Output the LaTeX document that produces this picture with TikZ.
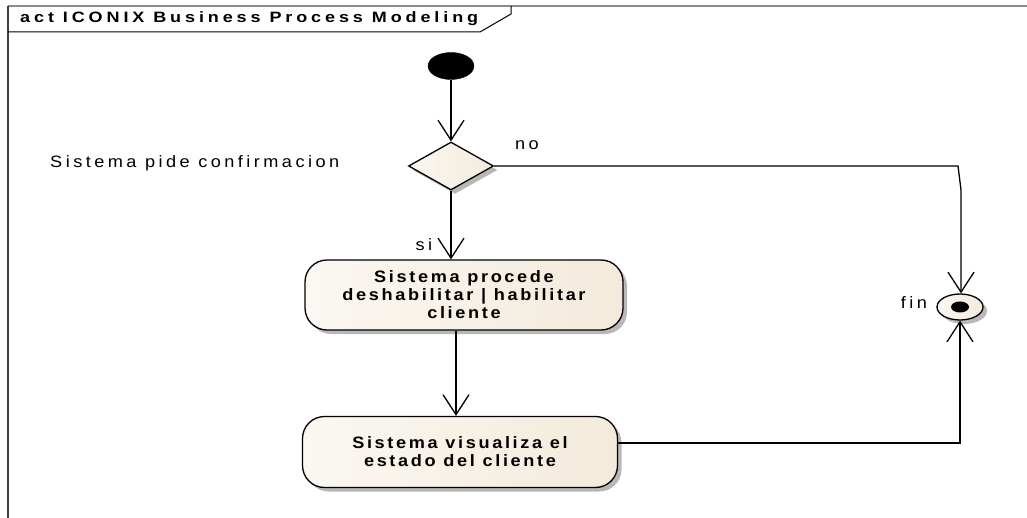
\documentclass[tikz,border=0pt]{standalone}
\usepackage{fontspec}
\usepackage{tikz}
\usetikzlibrary{arrows.meta,shapes.geometric,shadows}
\definecolor{actfill}{RGB}{243,234,219}
\definecolor{framegray}{RGB}{140,140,140}
\newfontfamily\lblfont[LetterSpace=21,FakeStretch=1.1]{Liberation Sans}
\newfontfamily\actfont[LetterSpace=16,FakeStretch=1.1]{Liberation Sans}
\newfontfamily\ttlfont[LetterSpace=26,FakeStretch=1.2]{Liberation Sans}
\tikzset{
  flowarr/.style   = {-{Straight Barb[length=20pt,width=26pt]},line width=1.3pt},
  umlshadow/.style = {drop shadow={shadow xshift=4pt,shadow yshift=-4pt,fill=black!28,opacity=1}},
  actbox/.style    = {draw,line width=1.3pt,rounded corners=22pt,left color=actfill!35,right color=actfill,
                      umlshadow,inner sep=0pt,align=center,font=\actfont\bfseries\fontsize{16.5}{18}\selectfont},
  decbox/.style    = {diamond,draw,line width=1.3pt,left color=actfill!35,right color=actfill,umlshadow,
                      minimum width=85pt,minimum height=48pt,inner sep=0pt},
  lbl/.style       = {font=\lblfont\fontsize{16.5}{18}\selectfont,inner sep=0pt}
}

\begin{document}
\begin{tikzpicture}[x=1pt,y=-1pt]
  \useasboundingbox (0,0) rectangle (1027,518);
  \draw[framegray,line width=1.5pt] (8,6) -- (1027,6);
  \draw[black!75,line width=1.5pt] (8,6) -- (8,518);
  \draw[line width=1pt] (8,32) -- (480,32) -- (511,14) -- (511,6);
  \node[anchor=west,inner sep=0pt,font=\ttlfont\bfseries\fontsize{15}{17}\selectfont] (title) at (20,19)
    {act ICONIX Business Process Modeling};

  \node[ellipse,draw,fill=black,minimum width=46pt,minimum height=27pt,inner sep=0pt] (start) at (451,66) {};
  \node[decbox] (dec) at (451,166) {};
  \node[actbox,minimum width=318pt,minimum height=70pt] (act1) at (464,295)
    {Sistema procede\\deshabilitar | habilitar\\cliente};
  \node[actbox,minimum width=315pt,minimum height=71pt] (act2) at (460,452)
    {Sistema visualiza el\\estado del cliente};
  \node[ellipse,draw,line width=1.3pt,left color=actfill!35,right color=actfill,umlshadow,
        minimum width=46pt,minimum height=26pt,inner sep=0pt] (fin) at (960,307) {};
  \node[ellipse,fill=black,minimum width=18pt,minimum height=11pt,inner sep=0pt] (findot) at (fin) {};

  \node[lbl,anchor=west] (ask) at (50,163) {Sistema pide confirmacion};
  \node[lbl] (nolbl) at (527,145) {no};
  \node[lbl] (silbl) at (424,245) {si};
  \node[lbl] (finlbl) at (914,303) {fin};

  \coordinate (nobend) at (958,166);
  \coordinate (nodown) at (961,190);

  \draw[flowarr] (start) -- (dec);
  \draw[flowarr] (dec.south) -- (dec.south |- act1.north);
  \draw[flowarr] ([xshift=-4pt]act2.north |- act1.south) -- ([xshift=-4pt]act2.north);
  \draw[flowarr] (dec.east) -- (nobend) -- (nodown) -- (nodown |- fin.north);
  \draw[flowarr] ([yshift=9pt]act2.east) -- ([yshift=9pt]act2.east -| fin.south) -- (fin.south);
\end{tikzpicture}
\end{document}
